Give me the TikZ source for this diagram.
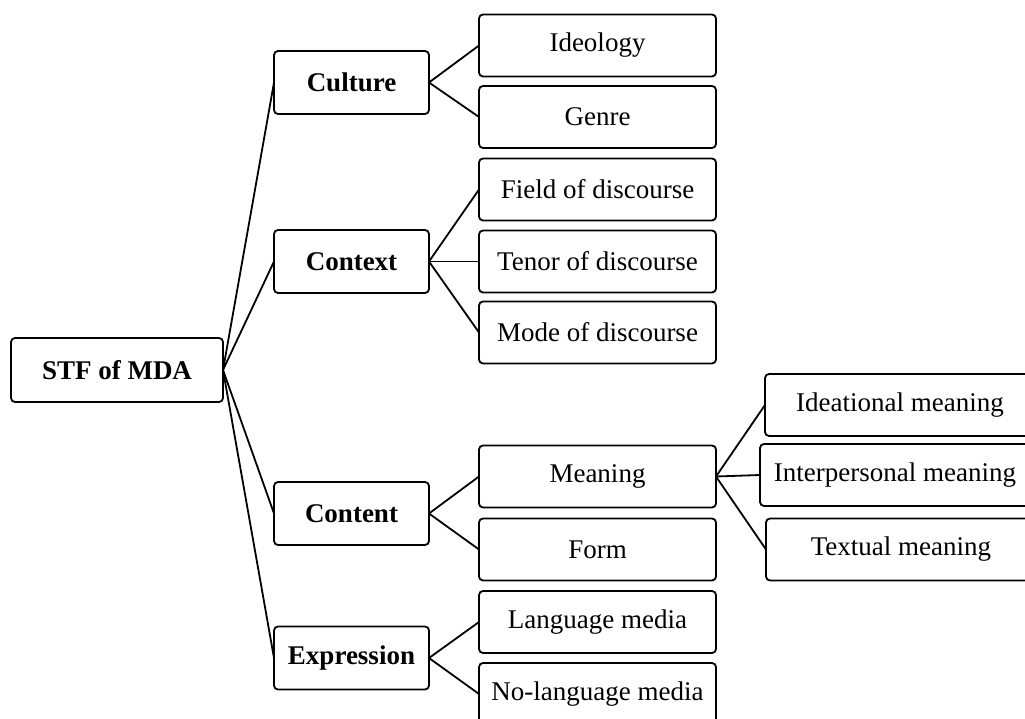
\documentclass[tikz,border=0pt]{standalone}
\usepackage{fontspec}
\setmainfont{Liberation Serif}
\usepackage{tikz}

\begin{document}
\begin{tikzpicture}[x=1pt, y=-1pt,
	box/.style = {draw, line width=1.8pt, rounded corners=4pt,
		inner sep=0pt, outer sep=0pt, align=center,
		font=\fontsize{27}{32}\selectfont},
	rootbox/.style = {box, minimum width=212pt, minimum height=64pt, font=\fontsize{27}{32}\selectfont\bfseries},
	mainbox/.style = {box, minimum width=155pt, minimum height=63pt, font=\fontsize{27}{32}\selectfont\bfseries},
	subbox/.style = {box, minimum width=237pt, minimum height=62pt},
	leafbox/.style = {box, minimum width=270pt, minimum height=62pt},
	link/.style = {line width=1.8pt}]
\useasboundingbox (0, 0) rectangle (1025, 719);
\clip (0, 0) rectangle (1025, 719);

\node[rootbox] (stf) at (117, 370) {STF of MDA};

\node[mainbox] (culture) at (351.5, 82.5) {Culture};
\node[mainbox] (context) at (351.5, 261.5) {Context};
\node[mainbox] (content) at (351.5, 513.5) {Content};
\node[mainbox] (expression) at (351.5, 658) {Expression};

\node[subbox] (ideology) at (597.5, 45.5) {Ideology};
\node[subbox] (genre) at (597.5, 117) {Genre};
\node[subbox] (field) at (597.5, 189.5) {Field of discourse};
\node[subbox] (tenor) at (597.5, 261.5) {Tenor of discourse};
\node[subbox] (mode) at (597.5, 332.5) {Mode of discourse};
\node[subbox] (meaning) at (597.5, 476.5) {Meaning};
\node[subbox] (form) at (597.5, 549.5) {Form};
\node[subbox] (langmedia) at (597.5, 622) {Language media};
\node[subbox] (nolangmedia) at (597.5, 694) {No-language media};

\node[leafbox] (ideational) at (900, 405) {Ideational meaning};
\node[leafbox] (interpersonal) at (895, 475) {Interpersonal meaning};
\node[leafbox] (textual) at (901, 549.5) {Textual meaning};

\draw[link] (stf.east) -- (culture.west);
\draw[link] (stf.east) -- (context.west);
\draw[link] (stf.east) -- (content.west);
\draw[link] (stf.east) -- (expression.west);

\draw[link] (culture.east) -- (ideology.west);
\draw[link] (culture.east) -- (genre.west);

\draw[link] (context.east) -- (field.west);
\draw[link] (context.east) -- (tenor.west);
\draw[link] (context.east) -- (mode.west);

\draw[link] (content.east) -- (meaning.west);
\draw[link] (content.east) -- (form.west);

\draw[link] (expression.east) -- (langmedia.west);
\draw[link] (expression.east) -- (nolangmedia.west);

\draw[link] (meaning.east) -- (ideational.west);
\draw[link] (meaning.east) -- (interpersonal.west);
\draw[link] (meaning.east) -- (textual.west);
\end{tikzpicture}
\end{document}
